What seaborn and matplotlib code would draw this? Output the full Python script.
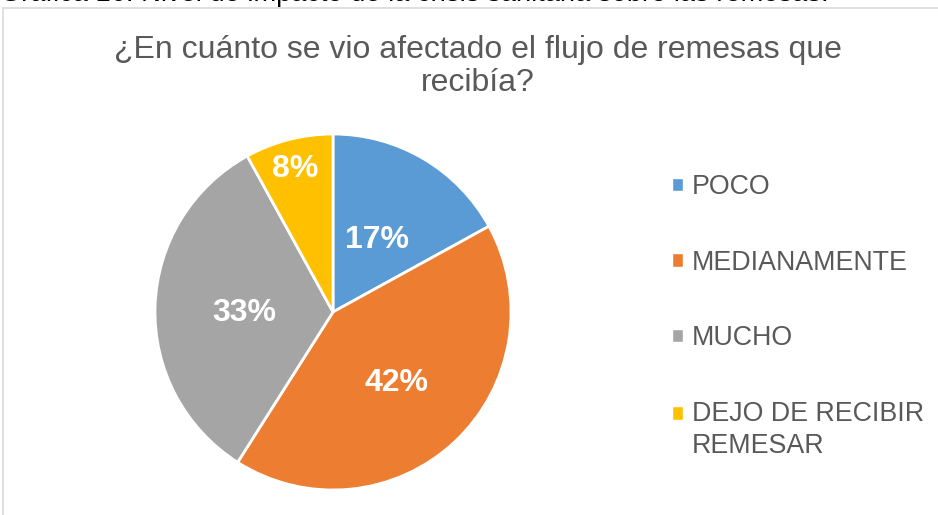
import numpy as np
import matplotlib.pyplot as plt
import seaborn as sns
from matplotlib.patches import Rectangle, Patch
from matplotlib.legend_handler import HandlerPatch

categories = ["POCO", "MEDIANAMENTE", "MUCHO", "DEJO DE RECIBIR\nREMESAR"]
percentages = [17, 42, 33, 8]
label_radius = [0.49, 0.52, 0.50, 0.85]
colors = ["#5B9BD5", "#ED7D31", "#A5A5A5", "#FFC000"]
title = "¿En cuánto se vio afectado el flujo de remesas que\nrecibía?"
caption = "Gráfica 16: Nivel de impacto de la crisis sanitaria sobre las remesas."

sns.set_theme(style="white")
plt.rcParams['font.family'] = ['Liberation Sans', 'DejaVu Sans']

W, H = 938, 515
fig = plt.figure(figsize=(W / 100, H / 100), dpi=100)

# chart frame (extends past the right and bottom edges)
fig.patches.append(Rectangle((3 / W, -0.1), 1.2, (H - 8) / H + 0.1,
                             transform=fig.transFigure, fill=False,
                             edgecolor="#D9D9D9", lw=1.2))
# document caption, cropped at the top edge like in the source
fig.text(0.0, 1 - 1 / H, caption, ha="left", va="baseline",
         fontsize=19.6, color="black")

fig.text(478 / W, 1 - 35 / H, title, ha="center", va="top",
         fontsize=23, color="#595959", linespacing=1.12)

ax = fig.add_axes([155 / W, 25 / H, 356 / W, 356 / H])
wedges, _ = ax.pie(percentages, colors=colors, startangle=90,
                   counterclock=False,
                   wedgeprops=dict(edgecolor="white", linewidth=2))
ax.set_xlim(-1, 1)
ax.set_ylim(-1, 1)

for w, p, r in zip(wedges, percentages, label_radius):
    ang = np.deg2rad((w.theta1 + w.theta2) / 2)
    ax.text(r * np.cos(ang), r * np.sin(ang), f"{p}%", ha="center",
            va="center_baseline", color="white", fontsize=23,
            fontweight="bold")


def top_square(legend, orig_handle, xdescent, ydescent, width, height,
               fontsize):
    # keep the marker next to the first line of a two-line label
    return Rectangle((-xdescent, -ydescent + 0.65 * fontsize), width, height)


handles = [Patch(facecolor=c) for c in colors]
leg = fig.legend(handles, categories, loc="upper left",
                 bbox_to_anchor=(672 / W, 1 - 174 / H), frameon=False,
                 fontsize=19.3, labelcolor="#595959", handlelength=0.4,
                 handleheight=0.4, handletextpad=0.35, labelspacing=1.85,
                 borderpad=0, borderaxespad=0,
                 handler_map={handles[3]: HandlerPatch(patch_func=top_square)})
leg.get_texts()[3].set_linespacing(1.3)

fig.savefig("out.png", dpi=100)
